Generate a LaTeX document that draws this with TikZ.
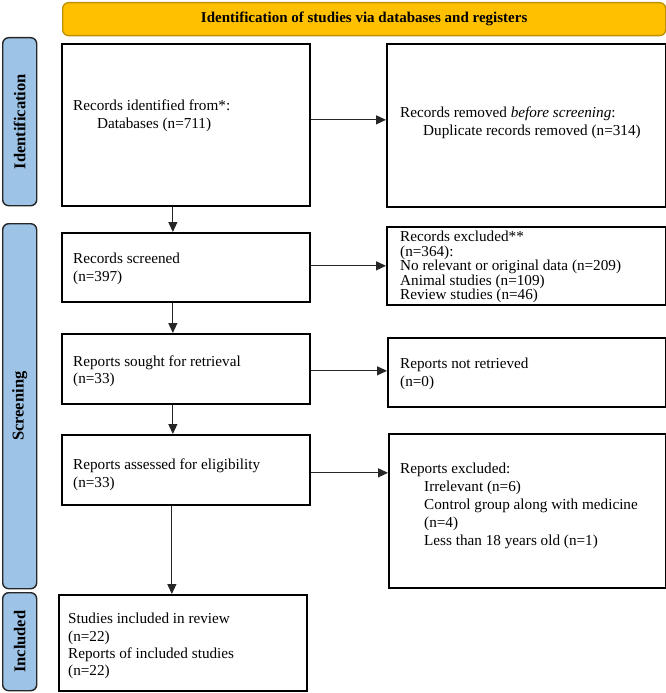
\documentclass[tikz,border=0pt]{standalone}
\usepackage{fontspec}
\setmainfont{Liberation Serif}
\usetikzlibrary{arrows.meta}
\definecolor{sideblue}{HTML}{9DC3E6}
\definecolor{bannerfill}{HTML}{FFC000}
\definecolor{bannerdraw}{HTML}{BF9000}
\begin{document}
\begin{tikzpicture}[x=1pt,y=-1pt,
  box/.style={draw=black, line width=1.7pt, inner sep=0pt, anchor=north west},
  sidebox/.style={draw=black!85, fill=sideblue, line width=1.4pt, rounded corners=6pt, anchor=north west, inner sep=0pt},
  sidetext/.style={rotate=90, font=\bfseries\fontsize{16.5}{18}\selectfont},
  banner/.style={draw=bannerdraw, fill=bannerfill, line width=1.3pt, rounded corners=6pt, anchor=north west, inner sep=0pt},
  txt/.style={anchor=north west, inner sep=0pt, align=left, font=\fontsize{15.2}{18}\selectfont},
  txttight/.style={anchor=north west, inner sep=0pt, align=left, font=\fontsize{15.2}{14.5}\selectfont},
  arr/.style={draw=black!85, line width=1.1pt, -{Triangle[length=10pt,width=9pt]}}
]
\useasboundingbox (0,0) rectangle (666,693);

% banner
\node[banner, minimum width=603pt, minimum height=33pt] (ban) at (62,2) {};
\node[font=\bfseries\fontsize{15}{17}\selectfont] (bant) at (ban.center) {Identification of studies via databases and registers};

% side labels
\node[sidebox, minimum width=34pt, minimum height=168pt] (sid) at (2,37) {};
\node[sidetext] (sidt) at (sid.center) {Identification};
\node[sidebox, minimum width=34pt, minimum height=365pt] (sscr) at (2,223) {};
\node[sidetext] (sscrt) at (sscr.center) {Screening};
\node[sidebox, minimum width=34pt, minimum height=98pt] (sinc) at (2,592) {};
\node[sidetext] (sinct) at (sinc.center) {Included};

% left column boxes
\node[box, minimum width=248pt, minimum height=162pt] (b1) at (61,43) {};
\node[box, minimum width=248pt, minimum height=69pt] (b2) at (61,232) {};
\node[box, minimum width=248pt, minimum height=70pt] (b3) at (61,333) {};
\node[box, minimum width=248pt, minimum height=70pt] (b4) at (61,434) {};
\node[box, minimum width=248pt, minimum height=96pt] (b5) at (58,594) {};

% right column boxes
\node[box, minimum width=279pt, minimum height=163pt] (r1) at (386,43) {};
\node[box, minimum width=279pt, minimum height=78pt] (r2) at (386,226) {};
\node[box, minimum width=278pt, minimum height=69pt] (r3) at (387,337) {};
\node[box, minimum width=277pt, minimum height=154pt] (r4) at (388,433) {};

% texts
\node[txt] (t1) at (73,99.5) {Records identified from*:\\\hspace*{24pt}Databases (n=711)};
\node[txt] (tr1) at (400,106.5) {Records removed \textit{before screening}:\\\hspace*{23pt}Duplicate records removed (n=314)};
\node[txt] (t2) at (73,252.5) {Records screened\\(n=397)};
\node[txttight] (tr2) at (400,231) {Records excluded**\\(n=364):\\No relevant or original data (n=209)\\Animal studies (n=109)\\Review studies (n=46)};
\node[txt, font=\fontsize{15.2}{17.5}\selectfont] (t3) at (73,355.5) {Reports sought for retrieval\\(n=33)};
\node[txt] (tr3) at (400,357.5) {Reports not retrieved\\(n=0)};
\node[txt] (t4) at (73,458.5) {Reports assessed for eligibility\\(n=33)};
\node[txt] (tr4) at (400,462.5) {Reports excluded:\\\hspace*{24pt}Irrelevant (n=6)\\\hspace*{24pt}Control group along with medicine\\\hspace*{24pt}(n=4)\\\hspace*{24pt}Less than 18 years old (n=1)};
\node[txt, font=\fontsize{15.2}{17.3}\selectfont] (t5) at (68,613) {Studies included in review\\(n=22)\\Reports of included studies\\(n=22)};

% vertical arrows
\draw[arr] ([xshift=-13pt]b1.south) -- ([xshift=-13pt]b1.south |- b2.north);
\draw[arr] ([xshift=-13pt]b2.south) -- ([xshift=-13pt]b2.south |- b3.north);
\draw[arr] ([xshift=-13pt]b3.south) -- ([xshift=-13pt]b3.south |- b4.north);
\draw[arr] ([xshift=-14pt]b4.south) -- ([xshift=-14pt]b4.south |- b5.north);

% horizontal arrows
\draw[arr] ([yshift=5pt]b1.east) -- ([yshift=5pt]b1.east -| r1.west);
\draw[arr] ([yshift=1.5pt]b2.east) -- ([yshift=1.5pt]b2.east -| r2.west);
\draw[arr] ([yshift=-2pt]b3.east) -- ([yshift=-2pt]b3.east -| r3.west);
\draw[arr] ([yshift=-3pt]b4.east) -- ([yshift=-3pt]b4.east -| r4.west);
\end{tikzpicture}
\end{document}
